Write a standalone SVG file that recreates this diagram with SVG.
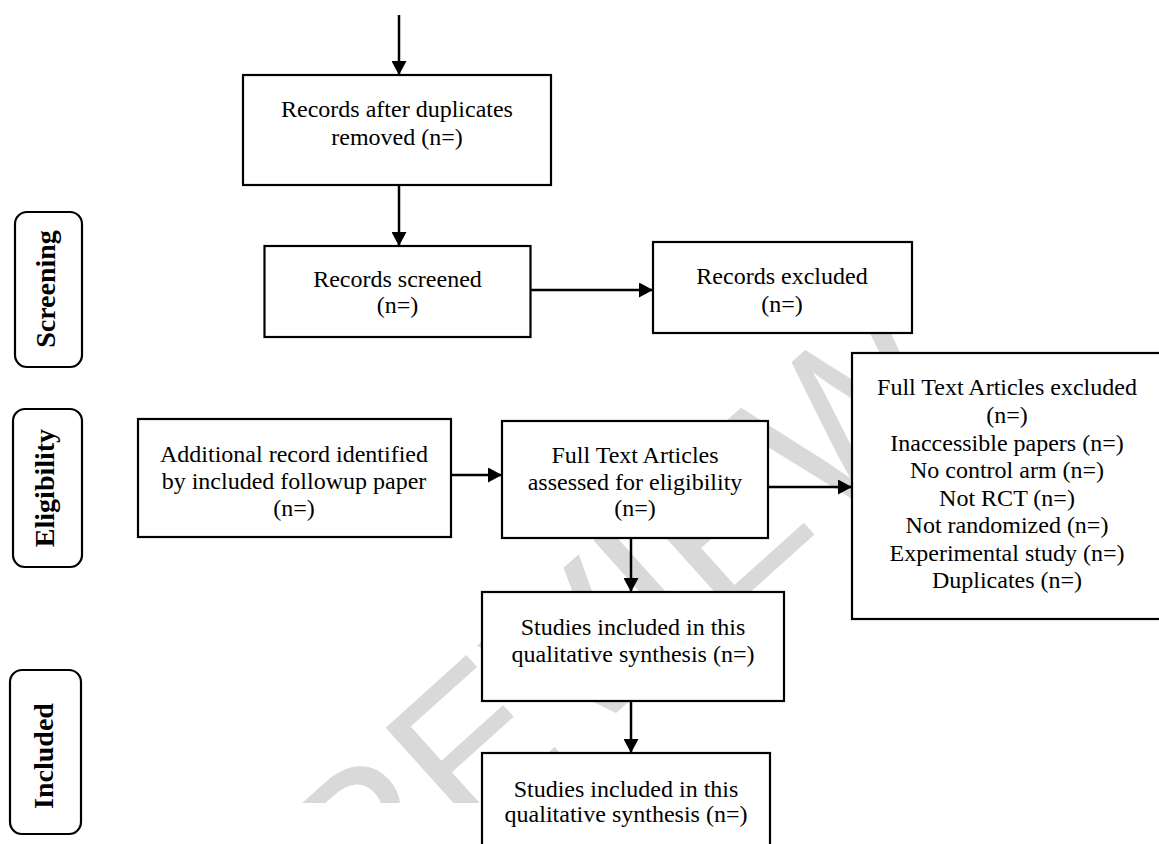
<svg xmlns="http://www.w3.org/2000/svg" width="1159" height="844" viewBox="0 0 1159 844">
<style>
.box{fill:#fff;stroke:#000;stroke-width:2.2}
.lbl{fill:#fff;stroke:#000;stroke-width:2.2}
.t{font-family:"Liberation Serif","Times New Roman",serif;font-size:24px;fill:#000;text-anchor:middle}
.b{font-family:"Liberation Serif","Times New Roman",serif;font-size:28px;font-weight:bold;fill:#000;text-anchor:middle}
.c{stroke:#000;stroke-width:2.5;fill:none;marker-end:url(#ah)}
.wm{font-family:"Liberation Sans",Arial,sans-serif;font-size:208px;fill:#d9d9d9;text-anchor:end}
</style>
<defs>
<marker id="ah" markerUnits="userSpaceOnUse" markerWidth="14" markerHeight="15" refX="14" refY="7.5" orient="auto">
<path d="M0,0 L14,7.5 L0,15 z" fill="#000"/>
</marker>
<clipPath id="wmclip"><rect x="0" y="0" width="1159" height="803"/></clipPath>
</defs>
<rect width="1159" height="844" fill="#fff"/>
<g id="watermark" clip-path="url(#wmclip)">
<text class="wm" x="967" y="397" transform="rotate(-42 967 397)">REVIEW</text>
</g>
<g id="connectors">
<line class="c" x1="399" y1="15" x2="399" y2="75"/>
<line class="c" x1="399" y1="186" x2="399" y2="246"/>
<line class="c" x1="531" y1="290" x2="653" y2="290"/>
<line class="c" x1="451" y1="475" x2="502" y2="475"/>
<line class="c" x1="768" y1="487" x2="852" y2="487"/>
<line class="c" x1="631" y1="539" x2="631" y2="592"/>
<line class="c" x1="631" y1="701" x2="631" y2="753"/>
</g>
<g id="label-screening">
<rect class="lbl" x="15" y="212" width="67" height="155" rx="12"/>
<text class="b" transform="translate(55,289) rotate(-90)">Screening</text>
</g>
<g id="label-eligibility">
<rect class="lbl" x="13" y="409" width="69" height="158" rx="12"/>
<text class="b" transform="translate(54,488) rotate(-90)">Eligibility</text>
</g>
<g id="label-included">
<rect class="lbl" x="10" y="670" width="71" height="164" rx="12"/>
<text class="b" transform="translate(53,756) rotate(-90)">Included</text>
</g>
<g id="records-after-duplicates">
<rect class="box" x="243" y="75" width="308" height="110"/>
<text class="t" x="397" y="117">Records after duplicates</text>
<text class="t" x="397" y="145">removed (n=)</text>
</g>
<g id="records-screened">
<rect class="box" x="264.5" y="246" width="266" height="91"/>
<text class="t" x="397.5" y="287">Records screened</text>
<text class="t" x="397.5" y="313">(n=)</text>
</g>
<g id="records-excluded">
<rect class="box" x="653" y="242" width="259" height="91"/>
<text class="t" x="782" y="284">Records excluded</text>
<text class="t" x="782" y="312">(n=)</text>
</g>
<g id="additional-record">
<rect class="box" x="138" y="419" width="313" height="118"/>
<text class="t" x="294" y="462">Additional record identified</text>
<text class="t" x="294" y="489">by included followup paper</text>
<text class="t" x="294" y="516">(n=)</text>
</g>
<g id="full-text-assessed">
<rect class="box" x="502" y="421" width="266" height="117"/>
<text class="t" x="635" y="463">Full Text Articles</text>
<text class="t" x="635" y="490">assessed for eligibility</text>
<text class="t" x="635" y="516">(n=)</text>
</g>
<g id="full-text-excluded">
<rect class="box" x="852" y="353" width="320" height="266"/>
<text class="t" x="1007" y="395">Full Text Articles excluded</text>
<text class="t" x="1007" y="423">(n=)</text>
<text class="t" x="1007" y="451">Inaccessible papers (n=)</text>
<text class="t" x="1007" y="478">No control arm (n=)</text>
<text class="t" x="1007" y="506">Not RCT (n=)</text>
<text class="t" x="1007" y="533">Not randomized (n=)</text>
<text class="t" x="1007" y="561">Experimental study (n=)</text>
<text class="t" x="1007" y="588">Duplicates (n=)</text>
</g>
<g id="studies-included-1">
<rect class="box" x="482" y="592" width="302" height="109"/>
<text class="t" x="633" y="635">Studies included in this</text>
<text class="t" x="633" y="662">qualitative synthesis (n=)</text>
</g>
<g id="studies-included-2">
<rect class="box" x="482" y="753" width="288" height="110"/>
<text class="t" x="626" y="797">Studies included in this</text>
<text class="t" x="626" y="822">qualitative synthesis (n=)</text>
</g>
</svg>
